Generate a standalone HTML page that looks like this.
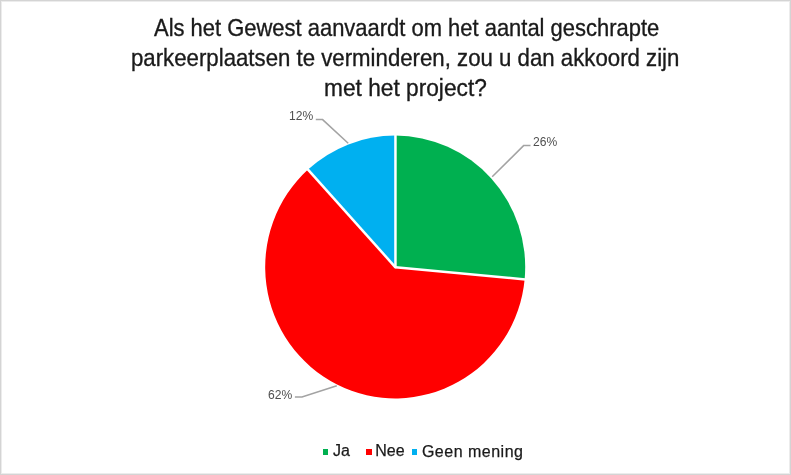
<!DOCTYPE html>
<html>
<head>
<meta charset="utf-8">
<style>
html,body{margin:0;padding:0;background:#fff;}
#frame{position:relative;will-change:transform;width:791px;height:475px;overflow:hidden;background:#fff;box-sizing:border-box;border:1px solid #d4d4d4;box-shadow:inset 0 0 0 1px #ececec;}
.t{position:absolute;white-space:nowrap;font-family:"Liberation Sans",sans-serif;font-size:24.4px;line-height:30px;color:#1a1a1a;transform-origin:0 0;-webkit-text-stroke:0.35px #1a1a1a;}
.lb{position:absolute;white-space:nowrap;font-family:"Liberation Sans",sans-serif;font-size:13px;line-height:14px;color:#4f4f4f;transform:scaleX(0.93);transform-origin:0 0;}
.lg{position:absolute;white-space:nowrap;font-family:"Liberation Sans",sans-serif;font-size:16px;line-height:20px;color:#1a1a1a;-webkit-text-stroke:0.25px #1a1a1a;}
.sq{position:absolute;width:5.5px;height:5.5px;}
svg{position:absolute;left:-1px;top:-1px;}
</style>
</head>
<body>
<div id="frame">
<svg width="791" height="475" viewBox="0 0 791 475">
<path d="M395.2,267.0 L395.20,135.60 A130,131.4 0 0 1 524.64,279.14 Z" fill="#00b050"/>
<path d="M395.2,267.0 L524.64,279.14 A130,131.4 0 1 1 307.98,169.57 Z" fill="#ff0000"/>
<path d="M395.2,267.0 L307.98,169.57 A130,131.4 0 0 1 395.20,135.60 Z" fill="#00b0f0"/>
<g stroke="#ffffff" stroke-width="2.5" stroke-linecap="butt">
<line x1="395.45" y1="267.3" x2="395.45" y2="132.90"/>
<line x1="395.45" y1="267.3" x2="527.88" y2="279.71"/>
<line x1="395.45" y1="267.3" x2="306.21" y2="167.64"/>
<circle cx="395.45" cy="267.3" r="1.25" fill="#fff" stroke="none"/>
</g>
<g fill="none" stroke="#a3a3a3" stroke-width="1.5">
<polyline points="315.8,119.6 322.6,119.6 348.2,143.2"/>
<polyline points="530.5,145.6 523.6,145.6 492.2,176.8"/>
<polyline points="294.9,397 302,397 336.8,385.7"/>
</g>
</svg>
<div class="t" style="left:152.7px;top:11.7px;transform:scaleX(0.9);">Als het Gewest aanvaardt om het aantal geschrapte</div>
<div class="t" style="left:130.2px;top:41.7px;transform:scaleX(0.911);">parkeerplaatsen te verminderen, zou u dan akkoord zijn</div>
<div class="t" style="left:322.5px;top:71.7px;transform:scaleX(0.931);">met het project?</div>

<div class="lb" style="left:288px;top:107.8px;">12%</div>
<div class="lb" style="left:532px;top:134.3px;">26%</div>
<div class="lb" style="left:267px;top:386.8px;">62%</div>

<div class="sq" style="left:321.5px;top:448px;background:#00b050;"></div>
<div class="lg" style="left:332px;top:440.3px;">Ja</div>
<div class="sq" style="left:365px;top:448px;background:#ff0000;"></div>
<div class="lg" style="left:374.2px;top:440.3px;">Nee</div>
<div class="sq" style="left:410.5px;top:448px;background:#00b0f0;"></div>
<div class="lg" style="left:420.9px;top:440.5px;letter-spacing:0.5px;">Geen mening</div>
</div>
</body>
</html>
